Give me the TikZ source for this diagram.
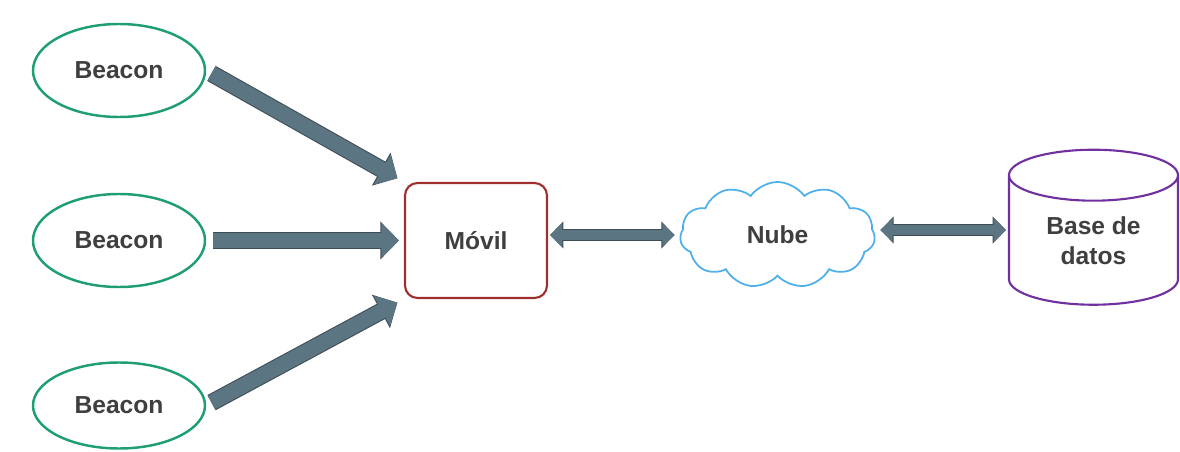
\documentclass[tikz,border=0pt]{standalone}
\usepackage{fontspec}
\setmainfont{Liberation Sans}
\usetikzlibrary{shapes.geometric,shapes.symbols,arrows.meta}

\definecolor{beacon_green}{HTML}{1F9E72}
\definecolor{movil_red}{HTML}{A0302F}
\definecolor{nube_blue}{HTML}{4EB0EA}
\definecolor{db_purple}{HTML}{7030A0}
\definecolor{arrow_gray}{HTML}{5B7583}
\definecolor{arrow_edge}{HTML}{3E4C55}
\definecolor{label_gray}{HTML}{3F3F3F}

\begin{document}
\begin{tikzpicture}[
    beacon_node/.style={ellipse,draw=beacon_green,line width=1.4pt,minimum width=3.44cm,minimum height=1.86cm,inner sep=0pt},
    movil_node/.style={rectangle,rounded corners=0.25cm,draw=movil_red,line width=1.2pt,minimum width=2.84cm,minimum height=2.3cm},
    nube_node/.style={cloud,cloud puffs=11,cloud puff arc=110,aspect=1.8,draw=nube_blue,line width=1pt,minimum width=3.9cm,minimum height=2.12cm,inner sep=0pt},
    db_node/.style={cylinder,shape border rotate=90,aspect=0.54,draw=db_purple,line width=1.2pt,minimum width=3.38cm,minimum height=3.1cm,align=center,inner sep=0pt},
    big_arrow/.style={arrow_gray,line width=8.6pt,-{Triangle[length=10pt,width=19pt]},
        preaction={draw=arrow_edge,line width=9.8pt,-{Triangle[length=10.6pt,width=21pt]}}},
    link_arrow/.style={arrow_gray,line width=6pt,{Triangle[length=7pt,width=13pt]}-{Triangle[length=7pt,width=13pt]},
        preaction={draw=arrow_edge,line width=7.2pt,{Triangle[length=7.6pt,width=15pt]}-{Triangle[length=7.6pt,width=15pt]}}},
    every node/.style={font=\fontsize{14}{17}\selectfont\bfseries,text=label_gray}]
    \useasboundingbox (0,0) rectangle (23.6,-9.04);

    \node[beacon_node] (1) at (2.38, -1.41) {Beacon};
    \node[beacon_node] (2) at (2.38, -4.81) {Beacon};
    \node[beacon_node,minimum height=1.72cm] (3) at (2.38, -8.11) {Beacon};

    \node[movil_node] (4) at (9.52, -4.81) {Móvil};
    \node[nube_node] (5) at (15.55, -4.70) {Nube};
    \node[db_node] (6) at (21.87, -4.81) {Base de\\datos};

    \draw[big_arrow, shorten <=0.12cm, shorten >=0.15cm] (1.east) -- (4.north west);
    \draw[big_arrow, shorten <=0.14cm, shorten >=0.1cm] (2.east) -- (4.west);
    \draw[big_arrow, shorten <=0.12cm, shorten >=0.15cm] (3.east) -- (4.south west);

    \draw[link_arrow, shorten <=0.04cm, shorten >=0.1cm] (4.east |- 5.west) -- (5.west);
    \draw[link_arrow, shorten <=0.1cm, shorten >=0.04cm] ([yshift=1mm]5.east) -- ([yshift=1mm]5.east -| 6.west);

\end{tikzpicture}
\end{document}
